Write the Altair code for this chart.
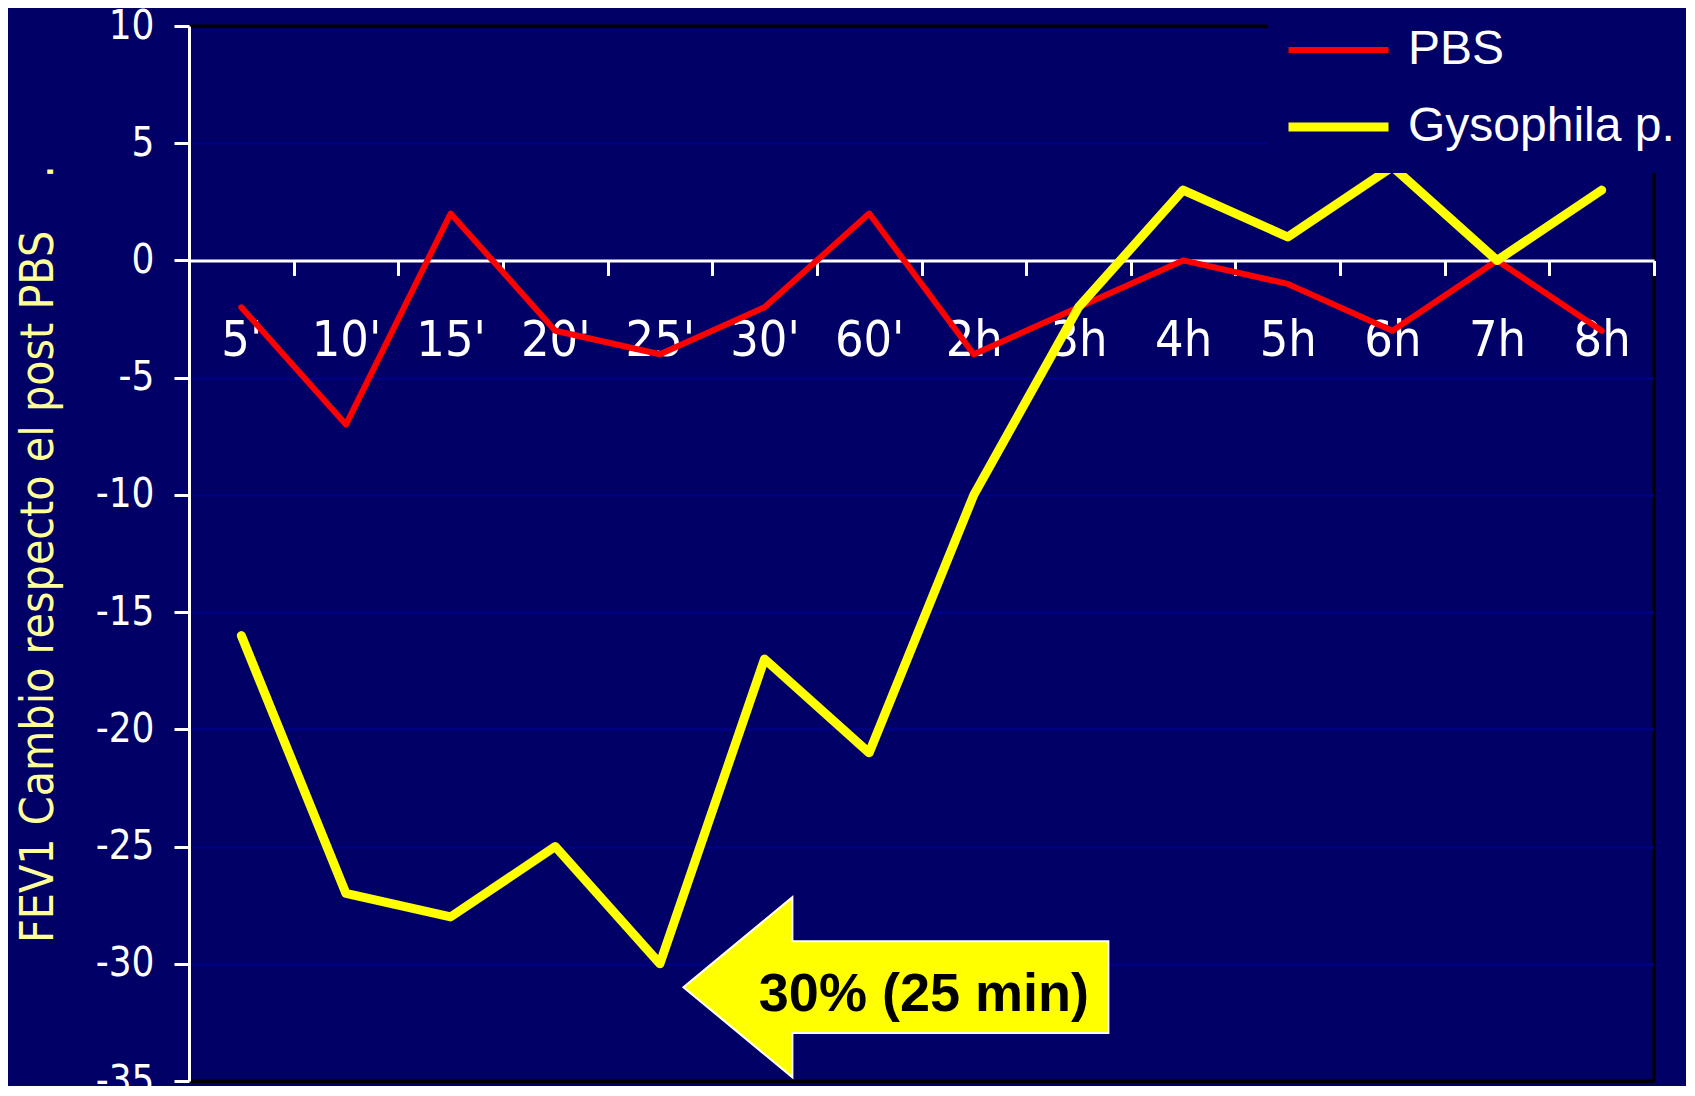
import altair as alt
import pandas as pd

times = ["5'", "10'", "15'", "20'", "25'", "30'", "60'", "2h", "3h", "4h", "5h", "6h", "7h", "8h"]
pbs = [-2, -7, 2, -3, -4, -2, 2, -4, -2, 0, -1, -3, 0, -3]
gyso = [-16, -27, -28, -25, -30, -17, -21, -10, -2, 3, 1, 4, 0, 3]
series = ["PBS", "Gysophila p."]
y_ticks = [10, 5, 0, -5, -10, -15, -20, -25, -30, -35]

ann_label = ["30% (25 min)"]
ann_x = ["25'"]
ann_y = [-31]

rows = []
for s, vals in zip(series, [pbs, gyso]):
    for t, v in zip(times, vals):
        rows.append({"t": t, "v": v, "s": s})
df = pd.DataFrame(rows)
ann = pd.DataFrame({"label": ann_label, "t": ann_x, "v": ann_y})

NAVY = "#000066"
NARROW = "Liberation Sans Narrow, Arial Narrow, DejaVu Sans Condensed, sans-serif"
W, H = 1465, 1055

x_enc = alt.X("t:N", sort=times,
              scale=alt.Scale(domain=times, paddingInner=0, paddingOuter=0),
              axis=alt.Axis(title=None, orient="bottom", offset=-(H * 35 / 45),
                            domainColor="white", domainWidth=3,
                            tickColor="white", tickWidth=3, tickSize=15, tickBand="extent",
                            labelColor="white", labelFont=NARROW, labelFontSize=50,
                            labelAngle=0, labelPadding=40, labelBaseline="top",
                            grid=False))
y_enc = alt.Y("v:Q", scale=alt.Scale(domain=[-35, 10], nice=False),
              axis=alt.Axis(title="FEV1 Cambio respecto el post PBS\u00a0\u00a0\u00a0\u00a0.",
                            values=y_ticks, format="d",
                            labelExpr="replace(datum.label, '\u2212', '-')",
                            domainColor="white", domainWidth=3,
                            tickColor="white", tickWidth=3, tickSize=15,
                            labelColor="white", labelFont=NARROW, labelFontSize=40,
                            labelPadding=20,
                            grid=True,
                            gridColor={"condition": {"test": "datum.value == 10 || datum.value == -35", "value": "black"}, "value": "#00008c"},
                            gridWidth={"condition": {"test": "datum.value == 10 || datum.value == -35", "value": 3}, "value": 2},
                            titleColor="#ffff99", titleFont=NARROW, titleFontSize=46,
                            titleFontWeight="normal", titleAngle=-90,
                            titleX=-151, titleY=H / 2, titleAlign="center",
                            titleBaseline="middle"))

lines = alt.Chart(df).mark_line(strokeCap="round", strokeJoin="round").encode(
    x=x_enc,
    y=y_enc,
    color=alt.Color("s:N", sort=series,
                    scale=alt.Scale(domain=series, range=["#ff0000", "#ffff00"]),
                    legend=alt.Legend(title=None, orient="none", legendX=1079, legendY=-22,
                                      fillColor=NAVY, padding=16,
                                      symbolType="stroke", symbolSize=10000,
                                      symbolStrokeWidth=9, clipHeight=60, rowPadding=17,
                                      labelColor="white", labelFont="Liberation Sans, Arial, sans-serif",
                                      labelFontSize=48, labelOffset=15, labelLimit=500)),
    strokeWidth=alt.StrokeWidth("s:N", scale=alt.Scale(domain=series, range=[6, 9]), legend=None),
    order=alt.Order("s:N", sort="descending"),
)

arrow_path = "M -1 0 L -0.487 -0.424 L -0.487 -0.216 L 1 -0.216 L 1 0.216 L -0.487 0.216 L -0.487 0.424 Z"
arrow = alt.Chart(ann).mark_point(shape=arrow_path, filled=True, fill="#ffff00", stroke="white",
                                  strokeWidth=2, opacity=1, size=425 * 425, xOffset=236).encode(
    x=alt.X("t:N", sort=times), y=alt.Y("v:Q"))
label = alt.Chart(ann).mark_text(font="Liberation Sans, Arial, sans-serif", fontWeight="bold",
                                 fontSize=54, color="black", xOffset=264, yOffset=8,
                                 align="center", baseline="middle").encode(
    x=alt.X("t:N", sort=times), y=alt.Y("v:Q"), text="label:N")

chart = alt.layer(lines, arrow, label).properties(
    width=W, height=H,
    background=NAVY,
    padding={"left": 181, "top": 18, "right": 32, "bottom": 5},
    autosize=alt.AutoSizeParams(type="none"),
).configure_view(stroke="black", strokeWidth=3, fill=NAVY)

chart.save("out.html", embed_options={"renderer": "svg", "actions": False})
